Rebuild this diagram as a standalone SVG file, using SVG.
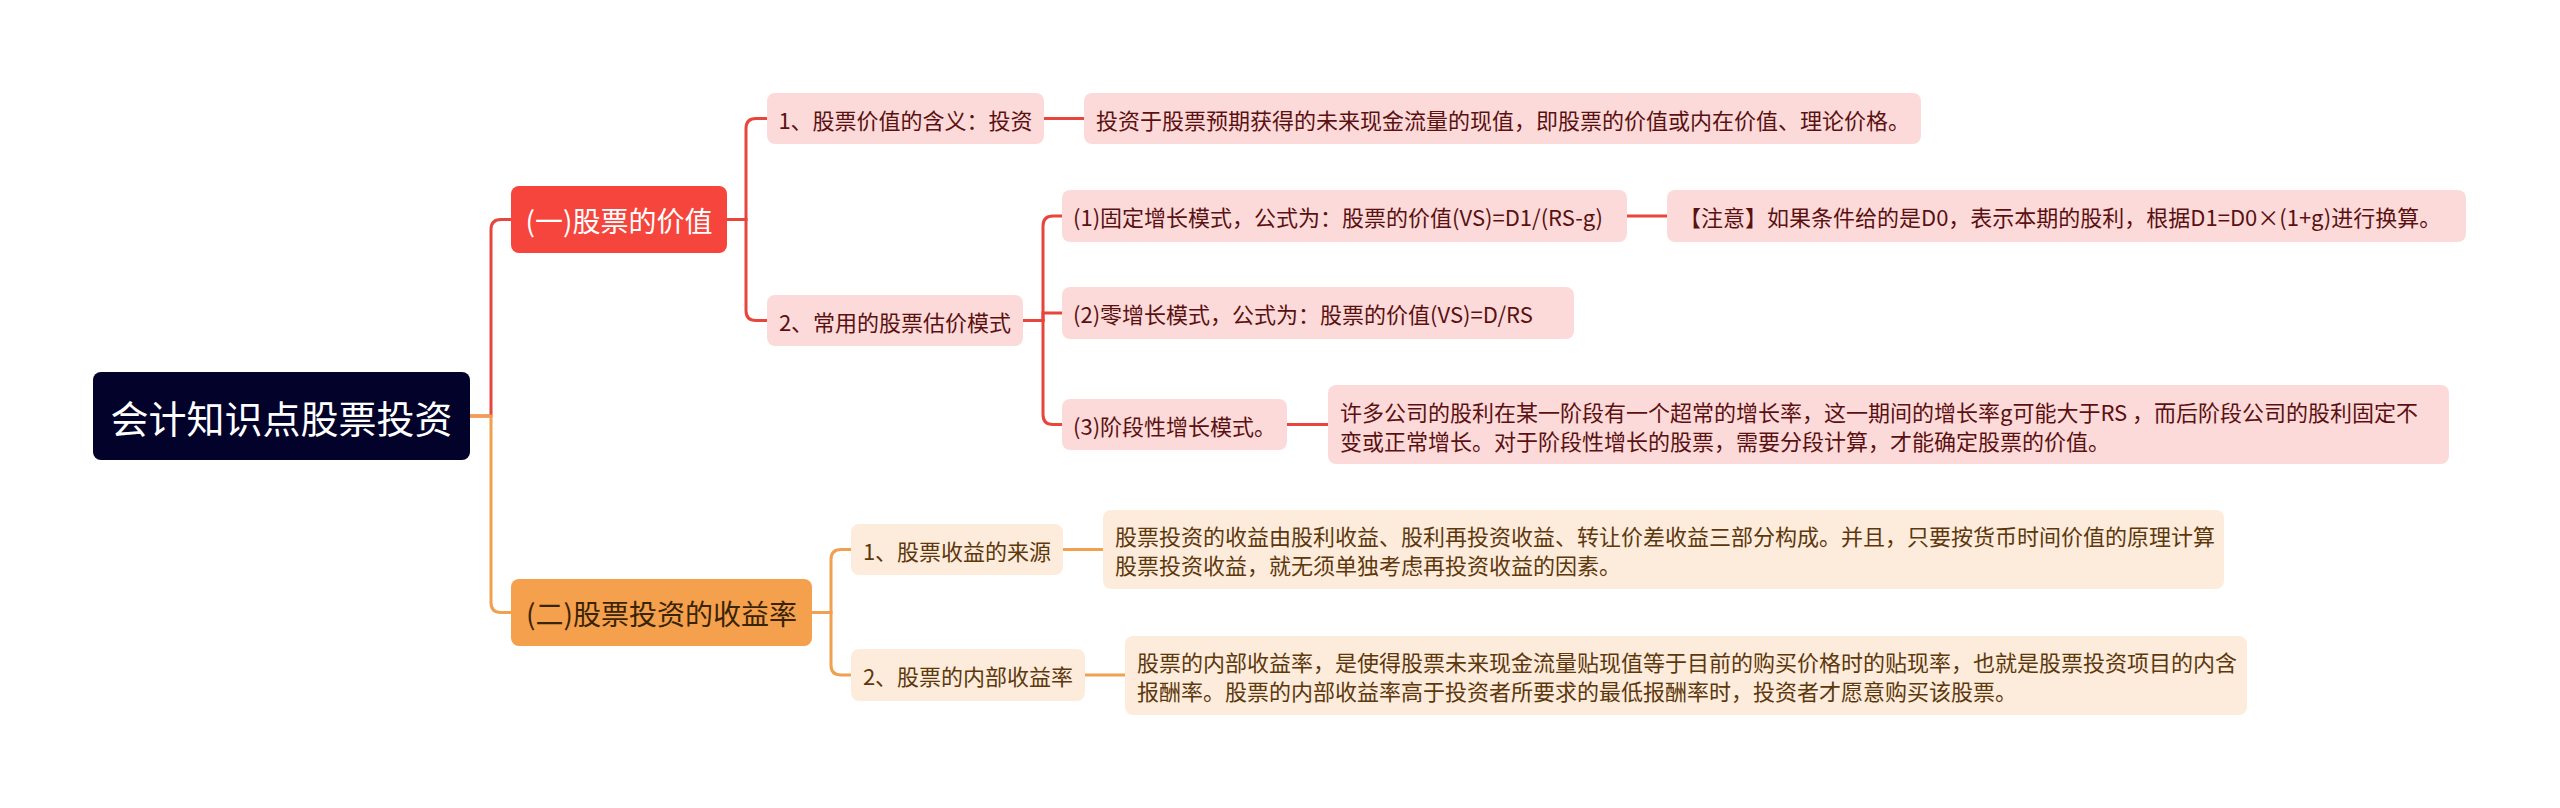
<svg xmlns="http://www.w3.org/2000/svg" width="2560" height="808" viewBox="0 0 2560 808">
<defs>
<style>
text{font-family:"Noto Sans CJK SC","Liberation Sans",sans-serif;dominant-baseline:central}
.root rect{fill:#02022a}
.root text{fill:#ffffff;font-size:38px;text-anchor:middle}
.l1r rect{fill:#f5453c}
.l1r text{fill:#ffffff;font-size:28px;text-anchor:middle}
.l1o rect{fill:#f5a04c}
.l1o text{fill:#3a2408;font-size:28px;text-anchor:middle}
.pk rect{fill:#fddada}
.pk text{fill:#5a1111;font-size:22px}
.lo rect{fill:#fdecdc}
.lo text{fill:#5c380c;font-size:22px}
.mid{text-anchor:middle}
.cr{fill:none;stroke:#e8453c;stroke-width:3}
.co{fill:none;stroke:#f0a04e;stroke-width:3}
</style>
</defs>
<rect width="2560" height="808" fill="#ffffff"/>
<g id="connectors">
<path class="cr" d="M470,416 H491 V229.5 Q491,219.5 501,219.5 H511"/>
<path class="co" d="M470,416 H491 V602.5 Q491,612.5 501,612.5 H511"/>
<path class="cr" d="M727,219.5 H746 V128.5 Q746,118.5 756,118.5 H767"/>
<path class="cr" d="M727,219.5 H746 V310.5 Q746,320.5 756,320.5 H767"/>
<path class="cr" d="M1023,320.5 H1043 V226 Q1043,216 1053,216 H1062"/>
<path class="cr" d="M1023,320.5 H1043 V313 H1062"/>
<path class="cr" d="M1023,320.5 H1043 V414.5 Q1043,424.5 1053,424.5 H1062"/>
<path class="cr" d="M1044,118.5 H1084"/>
<path class="cr" d="M1627,216 H1667"/>
<path class="cr" d="M1287,424.5 H1328"/>
<path class="co" d="M812,612.5 H831 V559.5 Q831,549.5 841,549.5 H851"/>
<path class="co" d="M812,612.5 H831 V665 Q831,675 841,675 H851"/>
<path class="co" d="M1063,549.5 H1103"/>
<path class="co" d="M1085,675 H1125"/>
</g>
<g id="root" class="root"><rect x="93" y="372" width="377" height="88" rx="8"/><text x="281.5" y="416">会计知识点股票投资</text></g>
<g id="n1" class="l1r"><rect x="511" y="186" width="216" height="67" rx="8"/><text x="619" y="219.5">(一)股票的价值</text></g>
<g id="n2" class="l1o"><rect x="511" y="579" width="301" height="67" rx="8"/><text x="661.5" y="612.5">(二)股票投资的收益率</text></g>
<g id="n1a" class="pk"><rect x="767" y="93" width="277" height="51" rx="8"/><text class="mid" x="905.5" y="118.5">1、股票价值的含义：投资</text></g>
<g id="n1a1" class="pk"><rect x="1084" y="93" width="837" height="51" rx="8"/><text x="1096" y="118.5">投资于股票预期获得的未来现金流量的现值，即股票的价值或内在价值、理论价格。</text></g>
<g id="n1b" class="pk"><rect x="767" y="295" width="256" height="51" rx="8"/><text class="mid" x="895" y="320.5">2、常用的股票估价模式</text></g>
<g id="n1b1" class="pk"><rect x="1062" y="190" width="565" height="52" rx="8"/><text x="1073" y="216">(1)固定增长模式，公式为：股票的价值(VS)=D1/(RS-g)</text></g>
<g id="n1b1a" class="pk"><rect x="1667" y="190" width="799" height="52" rx="8"/><text x="1679" y="216">【注意】如果条件给的是D0，表示本期的股利，根据D1=D0×(1+g)进行换算。</text></g>
<g id="n1b2" class="pk"><rect x="1062" y="287" width="512" height="52" rx="8"/><text x="1073" y="313">(2)零增长模式，公式为：股票的价值(VS)=D/RS</text></g>
<g id="n1b3" class="pk"><rect x="1062" y="399" width="225" height="51" rx="8"/><text x="1073" y="424.5">(3)阶段性增长模式。</text></g>
<g id="n1b3a" class="pk"><rect x="1328" y="385" width="1121" height="79" rx="8"/><text x="1340" y="410.5">许多公司的股利在某一阶段有一个超常的增长率，这一期间的增长率g可能大于RS ，而后阶段公司的股利固定不</text><text x="1340" y="439.5">变或正常增长。对于阶段性增长的股票，需要分段计算，才能确定股票的价值。</text></g>
<g id="n2a" class="lo"><rect x="851" y="524" width="212" height="51" rx="8"/><text class="mid" x="957" y="549.5">1、股票收益的来源</text></g>
<g id="n2a1" class="lo"><rect x="1103" y="510" width="1121" height="79" rx="8"/><text x="1115" y="535">股票投资的收益由股利收益、股利再投资收益、转让价差收益三部分构成。并且，只要按货币时间价值的原理计算</text><text x="1115" y="564">股票投资收益，就无须单独考虑再投资收益的因素。</text></g>
<g id="n2b" class="lo"><rect x="851" y="649" width="234" height="52" rx="8"/><text class="mid" x="968" y="675">2、股票的内部收益率</text></g>
<g id="n2b1" class="lo"><rect x="1125" y="636" width="1122" height="79" rx="8"/><text x="1137" y="661">股票的内部收益率，是使得股票未来现金流量贴现值等于目前的购买价格时的贴现率，也就是股票投资项目的内含</text><text x="1137" y="690">报酬率。股票的内部收益率高于投资者所要求的最低报酬率时，投资者才愿意购买该股票。</text></g>
</svg>
